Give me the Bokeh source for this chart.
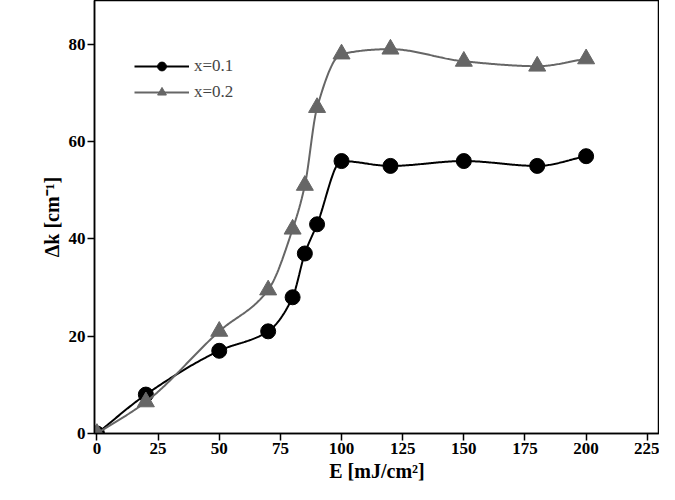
import numpy as np
from bokeh.plotting import figure
from bokeh.models import Range1d, Legend, LegendItem
from bokeh.embed import file_html
from bokeh.resources import INLINE

E = [0, 20, 50, 70, 80, 85, 90, 100, 120, 150, 180, 200]
dk_01 = [0, 8, 17, 21, 28, 37, 43, 56, 55, 56, 55, 57]
dk_02 = [0, 6.5, 21, 29.5, 42, 51, 67, 78, 79, 76.5, 75.5, 77]

FONT = "Liberation Serif"


def pchip(x, y, n=400):
    x = np.asarray(x, float)
    y = np.asarray(y, float)
    h = np.diff(x)
    d = np.diff(y) / h
    m = np.zeros_like(y)
    for i in range(1, len(x) - 1):
        if d[i - 1] * d[i] > 0:
            w1 = 2 * h[i] + h[i - 1]
            w2 = h[i] + 2 * h[i - 1]
            m[i] = (w1 + w2) / (w1 / d[i - 1] + w2 / d[i])
    m[0] = d[0]
    m[-1] = d[-1]
    xs = np.linspace(x[0], x[-1], n)
    idx = np.clip(np.searchsorted(x, xs) - 1, 0, len(x) - 2)
    t = (xs - x[idx]) / h[idx]
    h00 = 2 * t**3 - 3 * t**2 + 1
    h10 = t**3 - 2 * t**2 + t
    h01 = -2 * t**3 + 3 * t**2
    h11 = t**3 - t**2
    ys = h00 * y[idx] + h10 * h[idx] * m[idx] + h01 * y[idx + 1] + h11 * h[idx] * m[idx + 1]
    return xs, ys


p = figure(width=659, height=484, output_backend="svg", toolbar_location=None,
           x_range=Range1d(-1, 230), y_range=Range1d(0, 89),
           min_border_left=94, min_border_right=0, min_border_top=0, min_border_bottom=44)
p.grid.visible = False
p.outline_line_color = "black"
p.outline_line_width = 1.5

xs, ys = pchip(E, dk_01)
l1 = p.line(xs, ys, line_color="black", line_width=2)
m1 = p.scatter(E, dk_01, size=15, marker="circle", fill_color="black", line_color="black")
xs, ys = pchip(E, dk_02)
l2 = p.line(xs, ys, line_color="#666666", line_width=2)
m2 = p.scatter(E, dk_02, size=17, marker="triangle", fill_color="#666666", line_color="#666666")

p.xaxis.ticker = list(range(0, 226, 25))
p.yaxis.ticker = [0, 20, 40, 60, 80]
for ax in (p.xaxis, p.yaxis):
    ax.axis_line_width = 1.5
    ax.major_tick_line_width = 1.5
    ax.minor_tick_line_width = 1.5
    ax.major_tick_in = 0
    ax.major_tick_out = 7
    ax.minor_tick_out = 4
    ax.major_label_standoff = 2
    ax.axis_label_standoff = 3
    ax.major_label_text_font = FONT
    ax.major_label_text_font_style = "bold"
    ax.major_label_text_font_size = "17px"
    ax.major_label_text_color = "black"
    ax.axis_label_text_font = FONT
    ax.axis_label_text_font_style = "bold"
    ax.axis_label_text_font_size = "20px"
    ax.axis_label_text_color = "black"
p.xaxis.axis_label = "E [mJ/cm²]"
p.yaxis.axis_label = "Δk [cm⁻¹]"

legend = Legend(items=[LegendItem(label="x=0.1", renderers=[l1, m1]),
                       LegendItem(label="x=0.2", renderers=[l2, m2])],
                location=(30, 320), border_line_alpha=0, background_fill_alpha=0,
                label_text_font=FONT, label_text_font_size="17px",
                glyph_width=55, glyph_height=22, spacing=4)
p.add_layout(legend, "center")

open("out.html", "w").write(file_html(p, INLINE))
